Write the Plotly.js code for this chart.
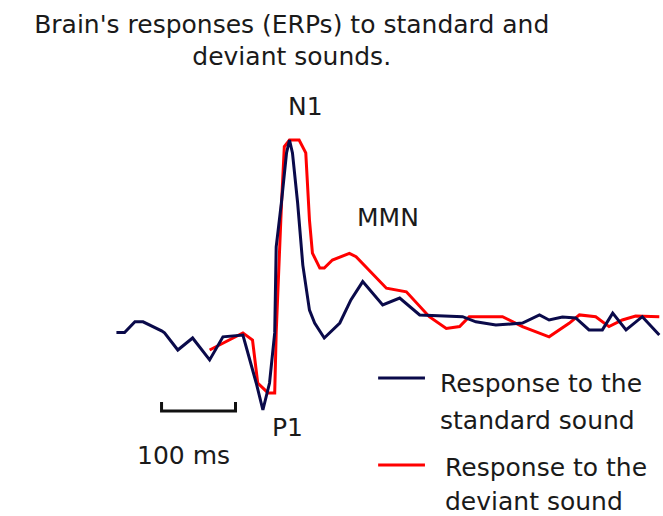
<!DOCTYPE html>
<html>
<head>
<meta charset="utf-8">
<script src="https://cdn.plot.ly/plotly-3.0.1.min.js"></script>
<style>html,body{margin:0;padding:0;background:#fff}#chart{width:663px;height:516px}</style>
</head>
<body>
<div id="chart"></div>
<script>
// Time (ms) and amplitude (µV, negative plotted upward)
const stdTime = [-134,-123,-109,-98,-73,-69,-51,-31,-8,10,37,55,64,73,80,82,89,96,100,104,111,118,127,134,147,168,183,199,226,249,276,334,352,379,415,438,451,469,487,505,523,537,555,577,600];
const stdAmp  = [0.42,0.42,0.06,0.06,0.36,0.43,1.0,0.6,1.33,0.56,0.5,2.1,3.0,2.1,0.43,-2.44,-3.9,-5.57,-6.0,-5.57,-3.9,-1.83,-0.33,0.1,0.6,0.1,-0.67,-1.28,-0.5,-0.73,-0.17,-0.11,0.06,0.17,0.1,-0.17,0,-0.1,-0.07,0.33,0.33,-0.23,0.33,-0.11,0.5];
const devTime = [-8,37,50,57,71,80,82,86,89,93,100,113,122,127,131,141,147,158,181,190,231,258,289,312,330,343,388,415,451,478,492,514,532,550,568,600];
const devAmp  = [1.0,0.43,0.67,2.1,2.43,2.43,0.43,-2.23,-3.78,-5.78,-6.0,-6.0,-5.57,-3.33,-2.23,-1.73,-1.73,-2.0,-2.22,-2.11,-1.06,-0.94,-0.11,0.28,0.22,-0.11,-0.11,0.22,0.56,0.11,-0.17,-0.11,0.22,0,-0.13,-0.11];
const seriesNames = ["Response to the standard sound", "Response to the deviant sound"];
const scaleBarMs = [-73, 27];

const font = "DejaVu Sans, sans-serif";
const txt = "#1a1a1a";
const traces = [
  {x: stdTime, y: stdAmp, mode: "lines", name: seriesNames[0], line: {color: "#0a0a4a", width: 3}},
  {x: devTime, y: devAmp, mode: "lines", name: seriesNames[1], line: {color: "#ff0000", width: 3}}
];
// draw deviant first so standard is on top where they overlap near P1
const data = [traces[1], traces[0]];

function ann(text, x, y, xanchor) {
  return {text: text, x: x, y: y, xref: "paper", yref: "paper", xanchor: xanchor || "center", yanchor: "middle", showarrow: false, font: {family: font, size: 25, color: txt}};
}

const layout = {
  width: 663, height: 516,
  margin: {l: 112, r: 0, t: 110, b: 61},
  paper_bgcolor: "#fff", plot_bgcolor: "#fff",
  showlegend: false,
  title: {text: "Brain's responses (ERPs) to standard and<br>deviant sounds.", x: 0.44, xanchor: "center", y: 0.937, yanchor: "top", yref: "container", font: {family: font, size: 25, color: txt}},
  xaxis: {range: [-140, 605], visible: false, showgrid: false, zeroline: false},
  yaxis: {range: [4.5, -7], visible: false, showgrid: false, zeroline: false},
  annotations: [
    ann("N1", 0.352, 1.009),
    ann("MMN", 0.501, 0.687),
    ann("P1", 0.319, 0.081),
    ann("100 ms", 0.129, 0.0),
    ann("Response to the", 0.592, 0.206, "left"),
    ann("standard sound", 0.592, 0.101, "left"),
    ann("Response to the", 0.601, -0.035, "left"),
    ann("deviant sound", 0.601, -0.136, "left")
  ],
  shapes: [
    {type: "path", xref: "x", yref: "y", path: "M" + scaleBarMs[0] + ",2.73 L" + scaleBarMs[0] + ",3.03 L" + scaleBarMs[1] + ",3.03 L" + scaleBarMs[1] + ",2.73", line: {color: "#111", width: 3}},
    {type: "line", xref: "paper", yref: "paper", x0: 0.483, x1: 0.568, y0: 0.223, y1: 0.223, line: {color: "#0a0a4a", width: 3}},
    {type: "line", xref: "paper", yref: "paper", x0: 0.483, x1: 0.568, y0: -0.029, y1: -0.029, line: {color: "#ff0000", width: 3}}
  ]
};
Plotly.newPlot("chart", data, layout, {displayModeBar: false, staticPlot: true});
</script>
</body>
</html>
